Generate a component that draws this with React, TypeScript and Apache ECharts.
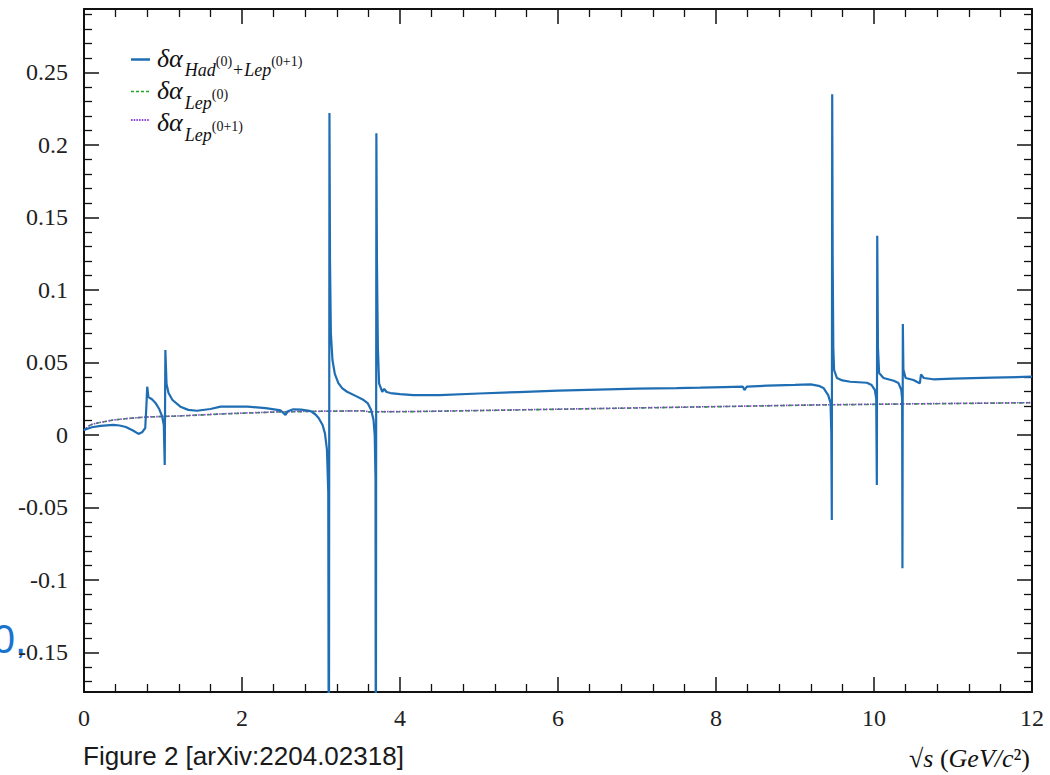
import React, { useEffect, useRef } from 'react';
import * as echarts from 'echarts';

// sqrt(s) [GeV/c^2], delta alpha
const hadLepCurve: [number, number][] = [
  [0, 0.0033], [0.1, 0.0052], [0.21, 0.0061], [0.37, 0.0068], [0.45, 0.0064],
  [0.53, 0.0054], [0.62, 0.003], [0.69, 0.0006], [0.74, 0.002], [0.775, 0.0047],
  [0.79, 0.02], [0.80, 0.0332], [0.816, 0.026], [0.86, 0.0245], [0.905, 0.022],
  [0.95, 0.018], [0.99, 0.0125], [1.01, 0.0068], [1.022, -0.0208], [1.03, 0.0585],
  [1.045, 0.035], [1.07, 0.0288], [1.12, 0.024], [1.22, 0.0194], [1.32, 0.0172],
  [1.43, 0.0166], [1.6, 0.0178], [1.73, 0.0194], [1.9, 0.0195], [2.07, 0.0194],
  [2.3, 0.0184], [2.49, 0.0168], [2.55, 0.0137], [2.58, 0.0162], [2.65, 0.0176],
  [2.75, 0.0174], [2.87, 0.0164], [2.93, 0.014], [2.97, 0.0116], [3.02, 0.0068],
  [3.05, 0.001], [3.075, -0.01], [3.092, -0.04], [3.100, -0.3], [3.107, 0.2219],
  [3.114, 0.12], [3.125, 0.07], [3.145, 0.0516], [3.175, 0.042], [3.22, 0.0357],
  [3.27, 0.032], [3.33, 0.0297], [3.45, 0.0265], [3.54, 0.024], [3.59, 0.0219],
  [3.635, 0.0171], [3.665, 0.0102], [3.68, 0.0], [3.69, -0.03], [3.694, -0.3],
  [3.701, 0.208], [3.708, 0.12], [3.72, 0.06], [3.735, 0.0355], [3.775, 0.0297],
  [3.80, 0.0316], [3.83, 0.0295], [3.88, 0.0288], [4.0, 0.028], [4.17, 0.0274],
  [4.5, 0.0274], [5.0, 0.0285], [5.5, 0.0295], [6.0, 0.0305], [6.5, 0.0312],
  [7.0, 0.0318], [7.5, 0.0322], [7.8, 0.0325], [8.1, 0.0329], [8.34, 0.0332],
  [8.36, 0.0309], [8.39, 0.0333], [8.65, 0.0339], [9.0, 0.0344], [9.2, 0.0348],
  [9.3, 0.0338], [9.36, 0.0323], [9.42, 0.0274], [9.45, 0.0219], [9.46, 0.0],
  [9.466, -0.0588], [9.471, 0.2349], [9.477, 0.12], [9.485, 0.06], [9.495, 0.0447],
  [9.53, 0.0392], [9.6, 0.0375], [9.7, 0.0366], [9.91, 0.0359], [9.97, 0.0343],
  [10.01, 0.031], [10.028, 0.025], [10.036, -0.0346], [10.041, 0.1373], [10.05, 0.06],
  [10.065, 0.0426], [10.12, 0.0392], [10.25, 0.0373], [10.31, 0.0357], [10.345, 0.031],
  [10.356, 0.025], [10.36, -0.092], [10.365, 0.0764], [10.372, 0.045], [10.40, 0.0392],
  [10.50, 0.0378], [10.565, 0.0359], [10.58, 0.0355], [10.595, 0.0417], [10.63, 0.0392],
  [10.75, 0.0383], [11.0, 0.0387], [11.5, 0.0394], [12, 0.0401],
];

const lep0Curve: [number, number][] = [
  [0, 0.003], [0.05, 0.0058], [0.1, 0.0072], [0.2, 0.0085], [0.37, 0.0102],
  [0.6, 0.0115], [0.8, 0.0123], [1.22, 0.013], [1.8, 0.0145], [2.49, 0.0158],
  [3.0, 0.0162], [3.54, 0.0165], [3.6, 0.0158], [4.17, 0.016], [5, 0.0167],
  [6, 0.0176], [7, 0.0185], [7.8, 0.0192], [9.2, 0.0205], [10.5, 0.0213], [12, 0.0221],
];

const lep01Curve: [number, number][] = [
  [0, 0.003], [0.05, 0.0058], [0.1, 0.0072], [0.2, 0.0085], [0.37, 0.0102],
  [0.6, 0.0115], [0.8, 0.0123], [1.22, 0.0131], [1.8, 0.0146], [2.49, 0.0159],
  [3.0, 0.0163], [3.54, 0.0166], [3.6, 0.0159], [4.17, 0.0161], [5, 0.0168],
  [6, 0.0177], [7, 0.0186], [7.8, 0.0193], [9.2, 0.0206], [10.5, 0.0214], [12, 0.0222],
];

const xMin = 0;
const xMax = 12;
const xStep = 2;
const yMin = -0.1774;
const yMax = 0.2937;
const yStep = 0.05;

const BLUE = '#1f6eb4';
const GREEN = '#22a62a';
const PURPLE = '#8a3ee0';
const SERIF = '"Liberation Serif", "DejaVu Serif", serif';

function measure(t: string, font: string): number {
  const ctx = document.createElement('canvas').getContext('2d');
  if (!ctx) return t.length * 8;
  ctx.font = font;
  return ctx.measureText(t).width;
}

type Piece = { t: string; size: number; italic: boolean; base: number; gap?: number };

function buildRow(x0: number, pieces: Piece[]): any[] {
  const out: any[] = [];
  let x = x0;
  for (const p of pieces) {
    x += p.gap || 0;
    const font = `${p.italic ? 'italic ' : ''}${p.size}px ${SERIF}`;
    out.push({
      type: 'text',
      x,
      y: p.base - 0.34 * p.size,
      style: {
        text: p.t,
        font,
        fill: '#111',
        textAlign: 'left',
        textVerticalAlign: 'middle',
        verticalAlign: 'middle',
      },
    });
    x += measure(p.t, font);
  }
  return out;
}

function axisCommon(show: boolean) {
  return {
    axisLine: { show: true, onZero: false, lineStyle: { color: '#111', width: 2 } },
    axisTick: { show: true, inside: true, length: 15, lineStyle: { color: '#111', width: 1.5 } },
    minorTick: { show: true, splitNumber: 5, length: 8, lineStyle: { color: '#111', width: 1.3 } },
    splitLine: { show: false },
    minorSplitLine: { show: false },
    axisLabel: {
      show,
      color: '#222',
      fontFamily: SERIF,
      fontSize: 24,
    },
  };
}

export default function App() {
  const ref = useRef<HTMLDivElement>(null);
  useEffect(() => {
    if (!ref.current) return;
    const chart = echarts.init(ref.current, undefined, { renderer: 'svg' });

    const legendGraphics: any[] = [
      { type: 'line', shape: { x1: 131, y1: 59.5, x2: 150, y2: 59.5 }, style: { stroke: BLUE, lineWidth: 2.5 } },
      { type: 'line', shape: { x1: 131, y1: 91.5, x2: 150, y2: 91.5 }, style: { stroke: GREEN, lineWidth: 1.6, lineDash: [3, 2] } },
      { type: 'line', shape: { x1: 131, y1: 120, x2: 150, y2: 120 }, style: { stroke: PURPLE, lineWidth: 1.8, lineDash: [1.5, 1.2] } },
      ...buildRow(157, [
        { t: 'δα', size: 26, italic: true, base: 67 },
        { t: 'Had', size: 18, italic: true, base: 76, gap: 2 },
        { t: '(0)', size: 14, italic: false, base: 66 },
        { t: '+', size: 18, italic: false, base: 76, gap: 1 },
        { t: 'Lep', size: 18, italic: true, base: 76, gap: 1 },
        { t: '(0+1)', size: 14, italic: false, base: 66 },
      ]),
      ...buildRow(157, [
        { t: 'δα', size: 26, italic: true, base: 99 },
        { t: 'Lep', size: 18, italic: true, base: 109, gap: 2 },
        { t: '(0)', size: 14, italic: false, base: 99 },
      ]),
      ...buildRow(157, [
        { t: 'δα', size: 26, italic: true, base: 131 },
        { t: 'Lep', size: 18, italic: true, base: 141, gap: 2 },
        { t: '(0+1)', size: 14, italic: false, base: 131 },
      ]),
    ];

    chart.setOption({
      animation: false,
      backgroundColor: '#ffffff',
      grid: { left: 84, right: 18, top: 9, bottom: 83, containLabel: false },
      xAxis: [
        {
          type: 'value', min: xMin, max: xMax, interval: xStep, position: 'bottom',
          ...axisCommon(true),
          axisLabel: { ...axisCommon(true).axisLabel, margin: 14 },
        },
        {
          type: 'value', min: xMin, max: xMax, interval: xStep, position: 'top',
          ...axisCommon(false),
        },
      ],
      yAxis: [
        {
          type: 'value', min: yMin, max: yMax, minInterval: yStep, maxInterval: yStep, position: 'left',
          ...axisCommon(true),
          axisLabel: {
            ...axisCommon(true).axisLabel,
            margin: 16,
            showMinLabel: false,
            showMaxLabel: false,
            formatter: (v: number) => {
              const k = Math.round(v / yStep);
              if (Math.abs(k * yStep - v) > 1e-6) return '';
              return String(parseFloat((k * yStep).toFixed(2)));
            },
          },
        },
        {
          type: 'value', min: yMin, max: yMax, minInterval: yStep, maxInterval: yStep, position: 'right',
          ...axisCommon(false),
        },
      ],
      series: [
        {
          name: 'lep0', type: 'line', data: lep0Curve, showSymbol: false, symbol: 'none',
          lineStyle: { color: GREEN, width: 1.6, type: [4, 3] }, z: 2,
        },
        {
          name: 'lep01', type: 'line', data: lep01Curve, showSymbol: false, symbol: 'none',
          lineStyle: { color: PURPLE, width: 1.6, type: [1.5, 1.5] }, z: 3,
        },
        {
          name: 'hadlep', type: 'line', data: hadLepCurve, showSymbol: false, symbol: 'none',
          lineStyle: { color: BLUE, width: 2.2 }, z: 4,
        },
      ],
      graphic: [
        ...legendGraphics,
        {
          type: 'text', x: 83, y: 756,
          style: {
            text: 'Figure 2 [arXiv:2204.02318]',
            font: '26px "Liberation Sans", Arial, sans-serif',
            fill: '#1a1a1a', textAlign: 'left', textVerticalAlign: 'middle', verticalAlign: 'middle',
          },
        },
        {
          type: 'text', x: 1030, y: 758,
          style: {
            text: '{n|√}{i|s}{n| (}{i|GeV/c}{n|²)}',
            textAlign: 'right', textVerticalAlign: 'middle', verticalAlign: 'middle',
            fill: '#111',
            rich: {
              n: { fontFamily: SERIF, fontSize: 26, fill: '#111' },
              i: { fontFamily: SERIF, fontSize: 26, fontStyle: 'italic', fill: '#111' },
            },
          },
        },
        {
          type: 'text', x: 26, y: 639,
          style: {
            text: '0,',
            font: '40px "Liberation Sans", Arial, sans-serif',
            fill: '#1a73d0', textAlign: 'right', textVerticalAlign: 'middle', verticalAlign: 'middle',
          },
        },
      ],
    });
    return () => chart.dispose();
  }, []);
  return (
    <div
      ref={ref}
      style={{ position: 'fixed', left: 0, top: 0, width: 1050, height: 775, background: '#fff' }}
    />
  );
}
